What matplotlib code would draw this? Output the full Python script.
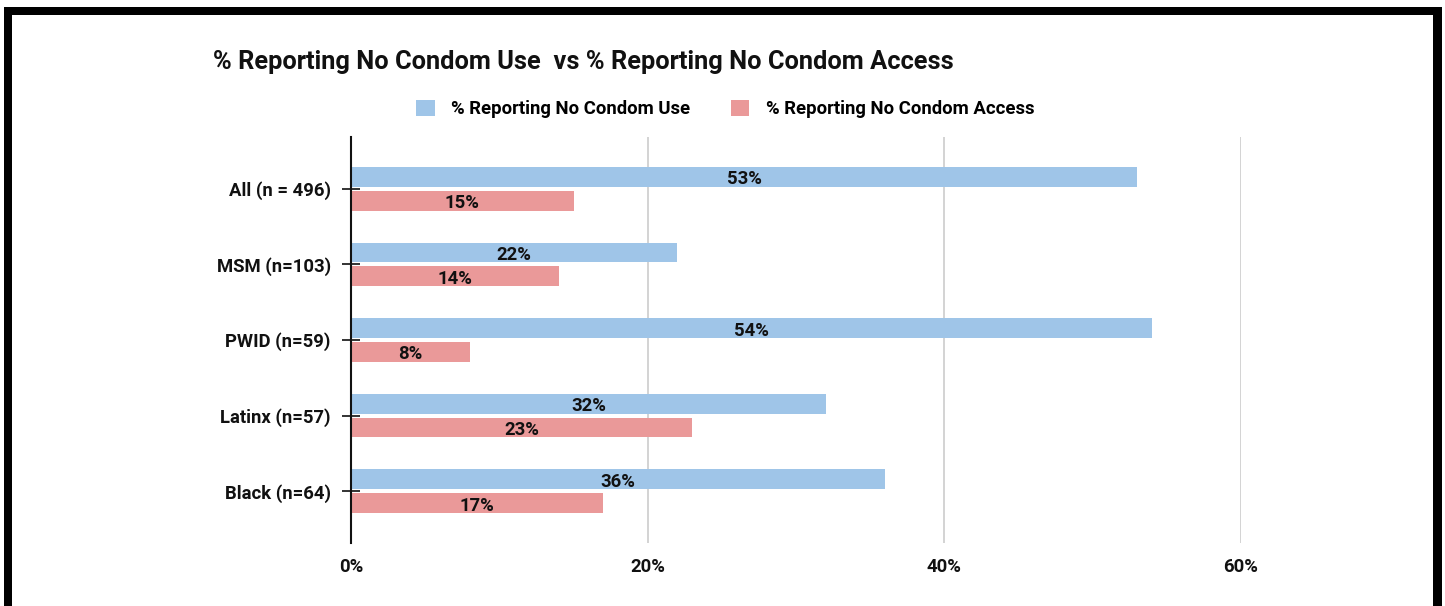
import matplotlib
matplotlib.use("Agg")
import matplotlib.pyplot as plt
from matplotlib.patches import Patch, Rectangle
import numpy as np

categories = ["All (n = 496)", "MSM (n=103)", "PWID (n=59)", "Latinx (n=57)", "Black (n=64)"]
no_condom_use = [53, 22, 54, 32, 36]
no_condom_access = [15, 14, 8, 23, 17]
series_names = ["% Reporting No Condom Use", "% Reporting No Condom Access"]
x_ticks = [0, 20, 40, 60]
x_tick_labels = ["0%", "20%", "40%", "60%"]

BLUE = "#9fc5e8"
RED = "#ea9999"

plt.rcParams["font.family"] = ["Roboto", "DejaVu Sans"]

W, H = 1445, 606
fig = plt.figure(figsize=(W / 100, H / 100), dpi=100)
fig.patch.set_facecolor("white")

# axes placement in pixel terms
left, right, top, bottom = 351, 1241, 137, 543
ax = fig.add_axes([left / W, 1 - bottom / H, (right - left) / W, (bottom - top) / H])

y = np.arange(len(categories))
h = 0.264
off = 0.158
b1 = ax.barh(y - off, no_condom_use, height=h, color=BLUE, zorder=3)
b2 = ax.barh(y + off, no_condom_access, height=h, color=RED, zorder=3)
labels = []
labels += ax.bar_label(b1, labels=[f"{v}%" for v in no_condom_use], label_type="center",
                       fontsize=13.3, fontweight="bold", color="#111111")
labels += ax.bar_label(b2, labels=[f"{v}%" for v in no_condom_access], label_type="center",
                       fontsize=13.3, fontweight="bold", color="#111111")
for ann in labels:
    ann.xyann = (0, -1.8)

ax.set_xlim(0, 60)
ax.set_ylim(4.686, -0.686)
ax.set_xticks(x_ticks)
ax.set_xticklabels(x_tick_labels, fontsize=13.3, fontweight="bold", color="#111111")
ax.set_yticks(y)
ax.set_yticklabels(categories, fontsize=13.3, fontweight="bold", color="#111111")
ax.tick_params(axis="x", length=0, pad=11)
ax.tick_params(axis="y", direction="inout", length=13, width=1.2, color="#111111", pad=8)

ax.grid(axis="x", color="#cccccc", linewidth=1.2, zorder=0)
ax.grid(axis="y", visible=False)
for s in ["top", "right", "bottom"]:
    ax.spines[s].set_visible(False)
ax.spines["left"].set_color("#111111")
ax.spines["left"].set_linewidth(1.5)
ax.spines["left"].set_zorder(4)

fig.text(213 / W, 1 - 62 / H, "% Reporting No Condom Use  vs % Reporting No Condom Access",
         fontsize=18.25, fontweight="bold", color="#111111", ha="left", va="center")

handles = [Patch(facecolor=BLUE, edgecolor="none"), Patch(facecolor=RED, edgecolor="none")]
leg = fig.legend(handles, series_names, loc="center", bbox_to_anchor=(0.502, 1 - 109 / H),
                 ncol=2, frameon=False, handlelength=1.0, handleheight=1.0,
                 handletextpad=0.9, columnspacing=2.2,
                 prop={"family": ["Roboto", "DejaVu Sans"], "weight": "bold", "size": 13.3})

# black frame around the figure (left, top, right)
frame_kw = dict(transform=fig.transFigure, facecolor="black", edgecolor="none", zorder=10)
fig.patches.append(Rectangle((4 / W, 0), 8 / W, 1 - 7 / H, **frame_kw))
fig.patches.append(Rectangle((4 / W, 1 - 15 / H), (1442 - 4) / W, 8 / H, **frame_kw))
fig.patches.append(Rectangle((1433 / W, 0), 9 / W, 1 - 7 / H, **frame_kw))

fig.savefig("out.png", dpi=100)
